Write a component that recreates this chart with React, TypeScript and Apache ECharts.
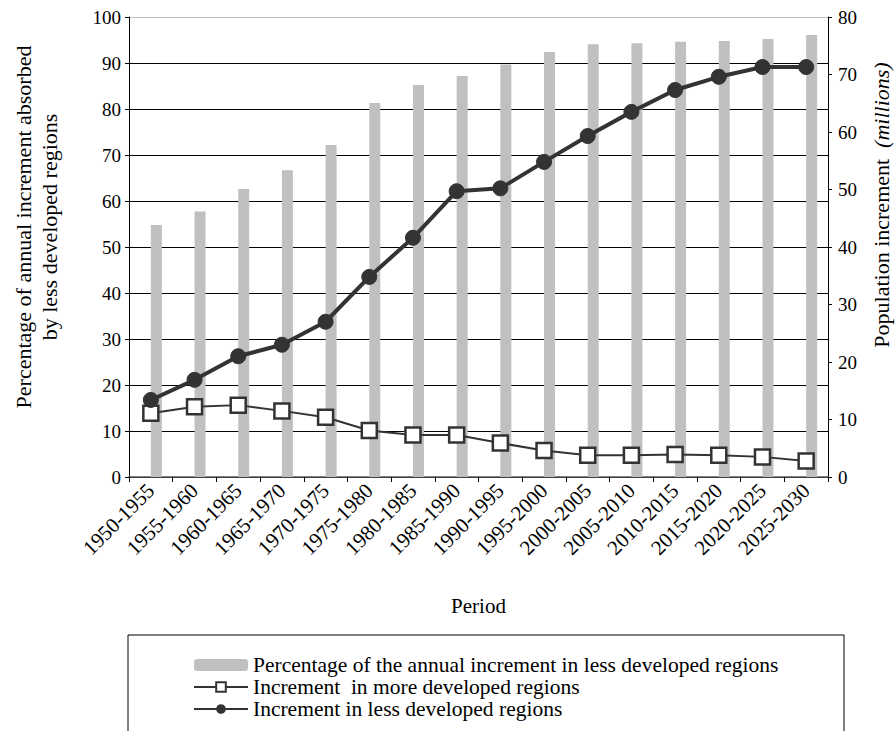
import React, { useEffect, useRef } from "react";
import * as echarts from "echarts";

const periods = [
  "1950-1955", "1955-1960", "1960-1965", "1965-1970", "1970-1975", "1975-1980",
  "1980-1985", "1985-1990", "1990-1995", "1995-2000", "2000-2005", "2005-2010",
  "2010-2015", "2015-2020", "2020-2025", "2025-2030",
];
const pctLess = [54.8, 57.7, 62.6, 66.7, 72.2, 81.3, 85.2, 87.2, 89.7, 92.4, 94.1, 94.3, 94.6, 94.8, 95.2, 96.1];
const incMore = [11.1, 12.2, 12.5, 11.5, 10.4, 8.1, 7.3, 7.3, 5.9, 4.6, 3.8, 3.8, 3.9, 3.8, 3.5, 2.8];
const incLess = [13.4, 16.9, 21.0, 23.0, 27.0, 34.8, 41.6, 49.7, 50.2, 54.8, 59.3, 63.5, 67.3, 69.6, 71.3, 71.3];
const padding = periods.map(() => null);

const nameBar = "Percentage of the annual increment in less developed regions";
const nameMore = "Increment  in more developed regions";
const nameLess = "Increment in less developed regions";
const leftTitle1 = "Percentage of annual increment absorbed";
const leftTitle2 = "by less developed regions";
const rightTitle = "Population increment  {i|(millions)}";

const FONT = "Liberation Serif";

export default function App() {
  const ref = useRef<HTMLDivElement>(null);
  useEffect(() => {
    const chart = echarts.init(ref.current!, undefined, { renderer: "svg" });
    const splitColors = Array.from({ length: 11 }, (_, i) => (i === 10 ? "#c0c0c0" : "#000"));
    const rot = Math.PI / 2;
    chart.setOption({
      animation: false,
      backgroundColor: "#fff",
      textStyle: { fontFamily: FONT, color: "#000" },
      grid: { left: 129, right: 67, top: 17, bottom: 254 },
      legend: {
        data: [nameBar, nameMore, nameLess],
        orient: "vertical",
        left: 193,
        top: 654,
        height: 100,
        padding: 0,
        itemWidth: 54,
        itemHeight: 12,
        itemGap: 0,
        textStyle: { fontSize: 21.5, fontFamily: FONT, color: "#000", lineHeight: 22 },
        selectedMode: false,
      },
      graphic: [
        {
          type: "rect",
          shape: { x: 128, y: 635, width: 716, height: 120 },
          style: { fill: "none", stroke: "#000", lineWidth: 1 },
          silent: true,
        },
        {
          type: "text",
          x: 23,
          y: 227,
          rotation: rot,
          silent: true,
          style: {
            text: leftTitle1,
            fontSize: 22,
            fontFamily: FONT,
            fill: "#000",
            align: "center",
            verticalAlign: "middle",
          },
        },
        {
          type: "text",
          x: 49,
          y: 227,
          rotation: rot,
          silent: true,
          style: {
            text: leftTitle2,
            fontSize: 22,
            fontFamily: FONT,
            fill: "#000",
            align: "center",
            verticalAlign: "middle",
          },
        },
        {
          type: "text",
          x: 881,
          y: 205,
          rotation: rot,
          silent: true,
          style: {
            text: rightTitle,
            fontSize: 22,
            fontFamily: FONT,
            fill: "#000",
            align: "center",
            verticalAlign: "middle",
            rich: { i: { fontStyle: "italic", fontSize: 22, fontFamily: FONT, fill: "#000" } },
          },
        },
      ],
      xAxis: {
        type: "category",
        data: periods,
        boundaryGap: true,
        name: "Period",
        nameLocation: "middle",
        nameGap: 118,
        nameTextStyle: { fontSize: 21, fontFamily: FONT, color: "#000" },
        axisLine: { lineStyle: { color: "#555", width: 1.5 } },
        axisTick: { show: true, length: 5, lineStyle: { color: "#000" } },
        axisLabel: {
          rotate: 45,
          interval: 0,
          margin: 10,
          padding: [14, 0, 0, 0],
          fontSize: 21,
          fontFamily: FONT,
          color: "#000",
        },
      },
      yAxis: [
        {
          type: "value",
          min: 0,
          max: 100,
          interval: 10,
          axisLine: { show: true, lineStyle: { color: "#000" } },
          axisTick: { show: true, length: 4, lineStyle: { color: "#000" } },
          axisLabel: { fontSize: 19, fontFamily: FONT, color: "#000", margin: 8 },
          splitLine: { show: true, lineStyle: { color: splitColors, width: 1 } },
        },
        {
          type: "value",
          min: 0,
          max: 80,
          interval: 10,
          position: "right",
          axisLine: { show: true, lineStyle: { color: "#000" } },
          axisTick: { show: true, length: 4, lineStyle: { color: "#000" } },
          axisLabel: { fontSize: 19, fontFamily: FONT, color: "#000", margin: 10 },
          splitLine: { show: false },
        },
      ],
      series: [
        {
          name: "_pad",
          type: "bar",
          data: padding,
          barWidth: 11,
          barGap: "0%",
          yAxisIndex: 0,
          itemStyle: { color: "transparent" },
          silent: true,
        },
        {
          name: nameBar,
          type: "bar",
          data: pctLess,
          barWidth: 11,
          barGap: "0%",
          yAxisIndex: 0,
          itemStyle: { color: "#c0c0c0" },
        },
        {
          name: nameMore,
          type: "line",
          data: incMore,
          yAxisIndex: 1,
          symbol: "rect",
          symbolSize: 15,
          lineStyle: { color: "#333", width: 2 },
          itemStyle: { color: "#fff", borderColor: "#333", borderWidth: 2.5 },
          z: 3,
        },
        {
          name: nameLess,
          type: "line",
          data: incLess,
          yAxisIndex: 1,
          symbol: "circle",
          symbolSize: 15,
          lineStyle: { color: "#333", width: 4 },
          itemStyle: { color: "#333", borderColor: "#333" },
          z: 4,
        },
      ],
    });
    return () => chart.dispose();
  }, []);
  return (
    <div
      ref={ref}
      style={{ position: "fixed", left: 0, top: 0, width: 895, height: 731, background: "#fff" }}
    />
  );
}
